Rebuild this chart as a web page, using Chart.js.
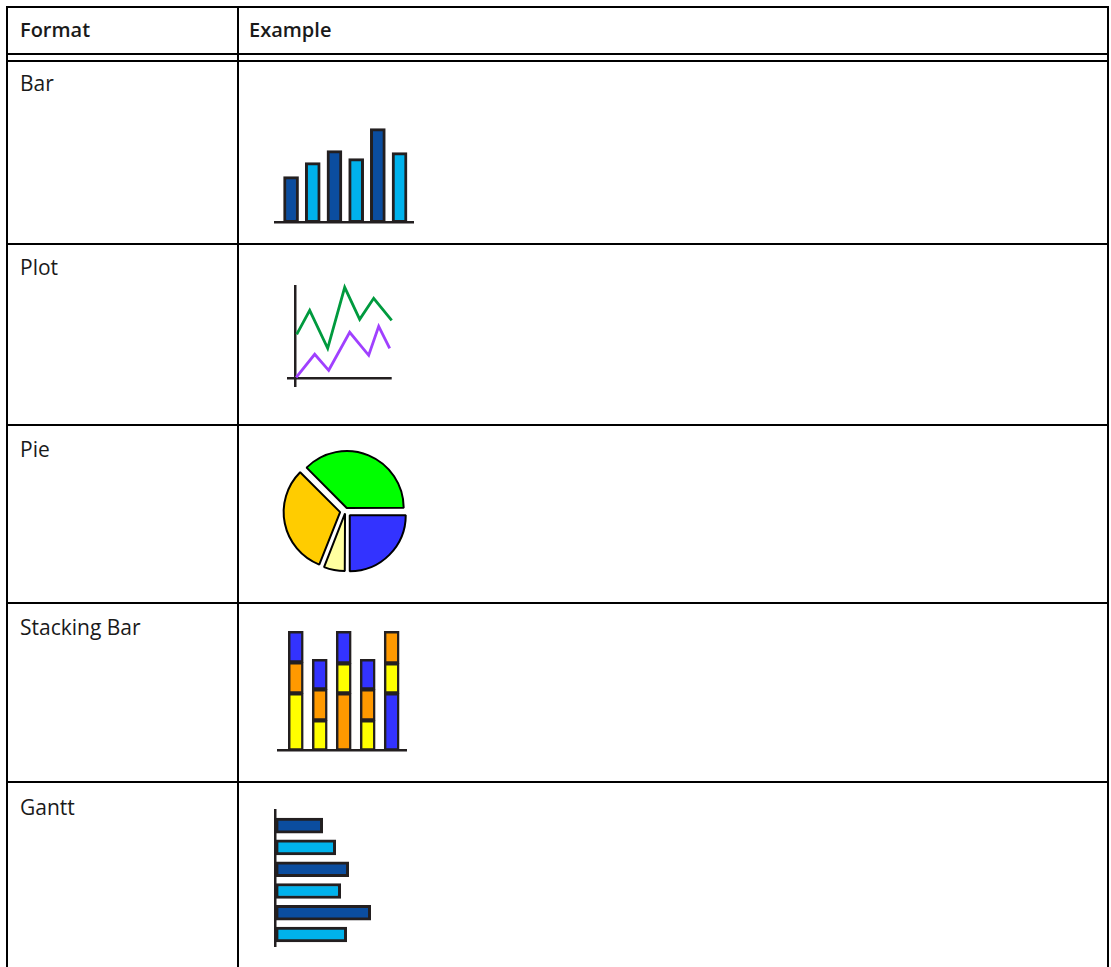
<!DOCTYPE html>
<html>
<head>
<meta charset="utf-8">
<title>Chart formats</title>
<script src="https://cdn.jsdelivr.net/npm/chart.js@4.4.1/dist/chart.umd.min.js"></script>
<style>
    body { margin: 0; background: #fff; }
    #page { position: relative; width: 1111px; height: 967px; overflow: hidden; font-family: "Open Sans", sans-serif; color: #1a1a1a; }
    .h, .v { position: absolute; background: #000; }
    .h { height: 2px; left: 6px; width: 1103px; }
    .v { width: 2px; top: 6px; height: 961px; }
    .label { position: absolute; left: 20px; font-size: 21px; line-height: 21px; white-space: nowrap; }
    .head { font-size: 20px; line-height: 20px; font-weight: 600; }
    canvas { position: absolute; }
</style>
</head>
<body>
<div id="page">
    <!-- table rules -->
    <div class="h" style="top:6px"></div>
    <div class="h" style="top:53px"></div>
    <div class="h" style="top:60px"></div>
    <div class="h" style="top:243px"></div>
    <div class="h" style="top:424px"></div>
    <div class="h" style="top:602px"></div>
    <div class="h" style="top:781px"></div>
    <div class="v" style="left:6px"></div>
    <div class="v" style="left:237px"></div>
    <div class="v" style="left:1107px"></div>

    <div class="label head" style="top:19.5px">Format</div>
    <div class="label head" style="top:19.5px; left:249px">Example</div>
    <div class="label" style="top:73px">Bar</div>
    <div class="label" style="top:256.5px">Plot</div>
    <div class="label" style="top:438.5px">Pie</div>
    <div class="label" style="top:616.5px">Stacking Bar</div>
    <div class="label" style="top:796.5px">Gantt</div>

    <canvas id="bar-chart" width="150" height="110" style="left:270px; top:118px"></canvas>
    <canvas id="plot-chart" width="120" height="112" style="left:280px; top:280px"></canvas>
    <canvas id="pie-chart" width="141" height="134" style="left:275px; top:444px"></canvas>
    <canvas id="stack-chart" width="145" height="130" style="left:270px; top:625px"></canvas>
    <canvas id="gantt-chart" width="120" height="150" style="left:265px; top:800px"></canvas>
</div>

<script>
// --- data ---
const barValues = [46, 60, 72, 64, 94, 70];

const plotGreenX = [1, 14, 32, 49, 64, 78, 96];
const plotGreenY = [44, 68, 30, 91, 59, 80, 58];
const plotPurpleX = [0.5, 19, 33, 54, 73, 83, 94];
const plotPurpleY = [1, 24, 8, 46, 23, 52, 30];

const pieLabels = ['Blue', 'Pale yellow', 'Orange', 'Green'];
const pieValues = [25, 6, 31.5, 37.5];

const stackBottom = [57, 30, 57, 30, 57];
const stackMiddle = [31, 31, 30, 31, 30];
const stackTop = [31, 30, 32, 30, 32];
const stackBottomKind = ['yellow', 'yellow', 'orange', 'yellow', 'blue'];
const stackMiddleKind = ['orange', 'orange', 'yellow', 'orange', 'yellow'];
const stackTopKind = ['blue', 'blue', 'blue', 'blue', 'orange'];

const ganttValues = [47, 60, 73, 65, 95, 71];

// --- styles ---
const OUTLINE = '#231f20';
const DARK_BLUE = '#0b4d9f';
const LIGHT_BLUE = '#00b2ec';
const STACK_COLORS = { yellow: '#ffff00', orange: '#ff9900', blue: '#3333ff' };
const PIE_COLORS = ['#3333ff', '#ffffa0', '#ffcc00', '#00ff00'];
// arc offsets (chart.js moves a slice by roughly offset / 4)
const PIE_OFFSETS = [24, 10, 22, 13];

document.addEventListener('DOMContentLoaded', function() {
    Chart.defaults.animation = false;
    Chart.defaults.responsive = false;
    Chart.defaults.events = [];
    Chart.defaults.plugins.legend.display = false;
    Chart.defaults.plugins.tooltip.enabled = false;

    initBarChart();
    initPlotChart();
    initPieChart();
    initStackChart();
    initGanttChart();
});

function alternating(n) {
    const out = [];
    for (let i = 0; i < n; i++) out.push(i % 2 === 0 ? DARK_BLUE : LIGHT_BLUE);
    return out;
}

// linear index axis, no ticks or grid, only the axis line
function baseAxis(extra) {
    return Object.assign({
        type: 'linear',
        offset: false,
        grid: { display: false, drawTicks: false },
        ticks: { display: false },
        border: { display: true, color: OUTLINE, width: 2.5 }
    }, extra);
}

function initBarChart() {
    new Chart(document.getElementById('bar-chart'), {
        type: 'bar',
        data: {
            datasets: [{
                data: barValues.map((v, i) => ({ x: i + 1, y: v })),
                backgroundColor: alternating(barValues.length),
                borderColor: OUTLINE,
                borderWidth: 3,
                borderSkipped: false,
                barThickness: 15
            }]
        },
        options: {
            layout: { padding: { left: 5, right: 7, top: 4.7, bottom: 5.3 } },
            scales: {
                x: baseAxis({ min: 0.26, max: 6.62 }),
                y: { min: 0, max: 100, display: false }
            }
        }
    });
}

function initPlotChart() {
    const axisAtZero = scale => { scale.ticks = [{ value: 0 }]; };
    const axis = (min, max) => ({
        type: 'linear', min: min, max: max,
        afterBuildTicks: axisAtZero,
        grid: { color: OUTLINE, lineWidth: 2.5, drawTicks: false },
        ticks: { display: false },
        border: { display: false }
    });
    new Chart(document.getElementById('plot-chart'), {
        type: 'scatter',
        data: {
            datasets: [
                {
                    data: plotGreenX.map((x, i) => ({ x: x, y: plotGreenY[i] })),
                    showLine: true,
                    borderColor: '#009a3e',
                    borderWidth: 2.8,
                    pointRadius: 0,
                    clip: false
                },
                {
                    data: plotPurpleX.map((x, i) => ({ x: x, y: plotPurpleY[i] })),
                    showLine: true,
                    borderColor: '#a040ff',
                    borderWidth: 2.8,
                    pointRadius: 0,
                    clip: false
                }
            ]
        },
        options: {
            layout: { padding: { left: 7.3, right: 8.3, top: 5, bottom: 5.3 } },
            scales: {
                x: axis(-8.4, 96),
                y: axis(-8.4, 93.3)
            }
        }
    });
}

function initPieChart() {
    new Chart(document.getElementById('pie-chart'), {
        type: 'pie',
        data: {
            labels: pieLabels,
            datasets: [{
                data: pieValues,
                backgroundColor: PIE_COLORS,
                borderColor: '#000',
                borderWidth: 2,
                offset: PIE_OFFSETS
            }]
        },
        options: {
            rotation: 90,
            radius: 56,
            layout: { padding: 0 }
        }
    });
}

function initStackChart() {
    const layer = (values, kinds) => ({
        data: values.map((v, i) => ({ x: i + 1, y: v })),
        backgroundColor: kinds.map(k => STACK_COLORS[k]),
        borderColor: OUTLINE,
        borderWidth: 2.5,
        borderSkipped: false,
        barThickness: 15
    });
    new Chart(document.getElementById('stack-chart'), {
        type: 'bar',
        data: {
            datasets: [
                layer(stackBottom, stackBottomKind),
                layer(stackMiddle, stackMiddleKind),
                layer(stackTop, stackTopKind)
            ]
        },
        options: {
            layout: { padding: { left: 8.3, right: 8.3, top: 5.3, bottom: 4.7 } },
            scales: {
                x: baseAxis({ min: 0.27, max: 5.626, stacked: true }),
                y: { min: 0, max: 120, stacked: true, display: false }
            }
        }
    });
}

function initGanttChart() {
    new Chart(document.getElementById('gantt-chart'), {
        type: 'bar',
        data: {
            datasets: [{
                data: ganttValues.map((v, i) => ({ x: v, y: i + 1 })),
                backgroundColor: alternating(ganttValues.length),
                borderColor: OUTLINE,
                borderWidth: 3,
                borderSkipped: false,
                barThickness: 15
            }]
        },
        options: {
            indexAxis: 'y',
            layout: { padding: { left: 10.7, right: 9.3, top: 10, bottom: 3.3 } },
            scales: {
                x: { min: 0, max: 100, display: false },
                y: baseAxis({ min: 0.28, max: 6.56, reverse: true })
            }
        }
    });
}
</script>
</body>
</html>
